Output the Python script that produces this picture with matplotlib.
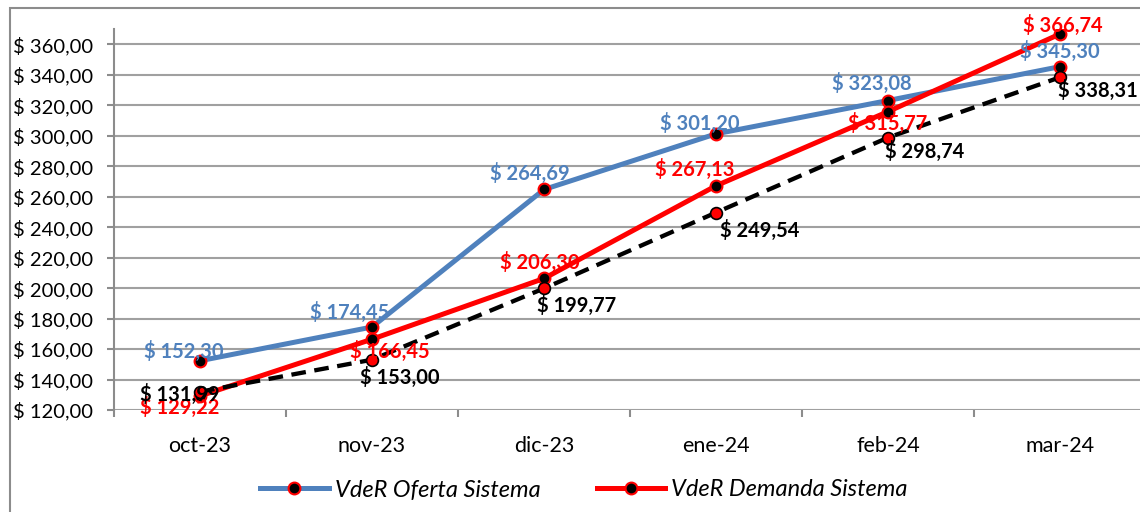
import numpy as np
import matplotlib
matplotlib.use("Agg")
import matplotlib.pyplot as plt
from matplotlib.patches import Rectangle

plt.rcParams['font.family'] = ['Lato', 'DejaVu Sans']

# Data
months = ["oct-23", "nov-23", "dic-23", "ene-24", "feb-24", "mar-24"]
oferta = [152.30, 174.45, 264.69, 301.20, 323.08, 345.30]
demanda = [129.22, 166.45, 206.30, 267.13, 315.77, 366.74]
tercera = [131.99, 153.00, 199.77, 249.54, 298.74, 338.31]
y_ticks = np.arange(120, 361, 20)

BLUE = "#4F81BD"
RED = "#FF0000"


def fmt(v):
    return "$ " + f"{v:,.2f}".replace(",", "X").replace(".", ",").replace("X", ".")


fig = plt.figure(figsize=(11.4, 5.12), dpi=100)
# outer chart border
fig.patches.append(Rectangle((10 / 1140, -0.1), 1.2, 1 - 8 / 512 + 0.1,
                             transform=fig.transFigure, fill=False,
                             edgecolor="#8C8C8C", linewidth=1.5))

ax = fig.add_axes([114 / 1140, 1 - 410 / 512, 1032 / 1140, (410 - 29) / 512])
x = np.arange(len(months))

ax.plot(x, oferta, color=BLUE, lw=3.6, marker="o", ms=8.5,
        mfc="black", mec=RED, mew=1.5, zorder=3, label="VdeR Oferta Sistema")
ax.plot(x, demanda, color=RED, lw=3.6, marker="o", ms=8.5,
        mfc="black", mec=RED, mew=1.5, zorder=4, label="VdeR Demanda Sistema")
ax.plot(x, tercera, color="black", lw=3.1, ls=(0, (3.4, 2.0)), marker="o", ms=8.5,
        mfc=RED, mec="black", mew=1.2, zorder=5)

ax.set_xlim(-0.5, 5.5)
ax.set_ylim(120, 370)
ax.set_yticks(y_ticks)
ax.set_yticklabels([fmt(v) for v in y_ticks], fontsize=14.5)
ax.set_xticks(x)
ax.set_xticklabels(months, fontsize=15.5)
ax.set_xticks(np.arange(-0.5, 6, 1), minor=True)
ax.tick_params(axis="x", which="major", length=0, pad=19)
ax.tick_params(axis="x", which="minor", length=5, width=1.5, color="#8C8C8C")
ax.tick_params(axis="y", length=5, width=1.5, color="#8C8C8C", pad=10)
ax.grid(axis="y", color="#A0A0A0", lw=1.5, zorder=0)
for s in ["top", "right", "bottom"]:
    ax.spines[s].set_visible(False)
ax.spines["left"].set_color("#8C8C8C")
ax.spines["left"].set_linewidth(1.5)

# data label offsets in pixels (dx, dy)
off_oferta = [(-16, 9), (-22, 15), (-14, 16), (-16, 10), (-16, 17), (0, 15)]
off_demanda = [(-20, -12), (18, -12), (-4, 16), (-21, 16), (0, -12), (3, 9)]
off_tercera = [(-20, -3), (28, -18), (33, -17), (44, -18), (37, -14), (38, -13)]

for vals, offs, col in [(oferta, off_oferta, BLUE), (demanda, off_demanda, RED),
                        (tercera, off_tercera, "black")]:
    for i, v in enumerate(vals):
        ax.annotate(fmt(v), (i, v), xytext=(offs[i][0] * 0.72, offs[i][1] * 0.72),
                    textcoords="offset points", ha="center", va="center",
                    fontsize=14.5, fontweight="bold", color=col, zorder=6)

fig.legend(loc="center", bbox_to_anchor=(584 / 1140, 1 - 490 / 512), ncol=2,
           frameon=False, prop={"style": "italic", "size": 17},
           handlelength=2.9, columnspacing=2.4, handletextpad=0.25)

fig.savefig("out.png", dpi=100)
